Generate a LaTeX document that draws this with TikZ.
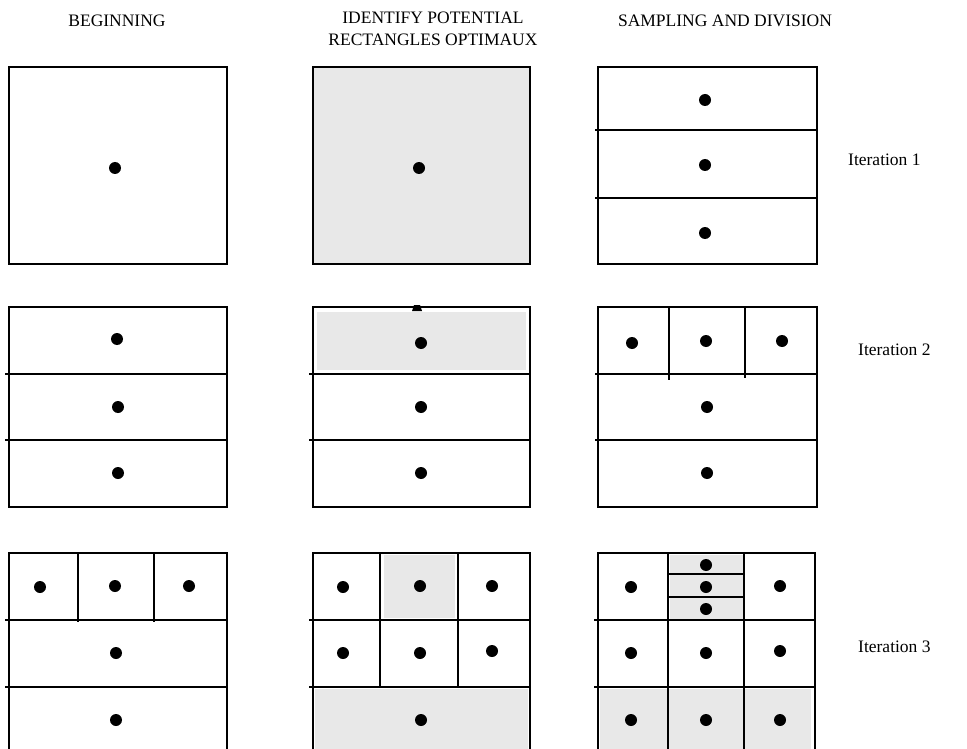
\documentclass[tikz,border=0pt]{standalone}
\usepackage{fontspec}
\setmainfont{Liberation Serif}
\definecolor{cellgrey}{HTML}{E8E8E8}
\begin{document}
\begin{tikzpicture}[x=1pt,y=-1pt,
  frame/.style={draw=black,line width=1.7pt},
  divider/.style={draw=black,line width=1.5pt},
  shade/.style={fill=cellgrey},
  dotmark/.style={fill=black},
  hdr/.style={font=\fontsize{17.5}{22}\selectfont, align=center, inner sep=0pt},
  itlab/.style={font=\fontsize{17.5}{20}\selectfont, inner sep=0pt, anchor=west}]
\useasboundingbox[fill=white] (0,0) rectangle (967,749);

% headers
\node[hdr] (h1) at (117,21) {BEGINNING};
\node[hdr] (h2) at (433,29) {IDENTIFY POTENTIAL\\RECTANGLES OPTIMAUX};
\node[hdr] (h3) at (725,21) {SAMPLING AND DIVISION};

% iteration labels
\node[itlab] (it1) at (848,160) {Iteration 1};
\node[itlab] (it2) at (858,350) {Iteration 2};
\node[itlab] (it3) at (858,647) {Iteration 3};

% ---------- Row 1 ----------
\draw[frame] (9,67) rectangle (227,264);
\fill[dotmark] (115,168) circle (6);

\draw[frame,shade] (313,67) rectangle (530,264);
\fill[dotmark] (419,168) circle (6);

\draw[frame] (598,67) rectangle (817,264);
\draw[divider] (595,130) -- (817,130);
\draw[divider] (595,198) -- (817,198);
\fill[dotmark] (705,100) circle (6);
\fill[dotmark] (705,165) circle (6);
\fill[dotmark] (705,233) circle (6);

% ---------- Row 2 ----------
\draw[frame] (9,307) rectangle (227,507);
\draw[divider] (5,374) -- (227,374);
\draw[divider] (5,440) -- (227,440);
\fill[dotmark] (117,339) circle (6);
\fill[dotmark] (118,407) circle (6);
\fill[dotmark] (118,473) circle (6);

\fill[shade] (317,312) rectangle (526,370);
\draw[frame] (313,307) rectangle (530,507);
\draw[divider] (309,374) -- (530,374);
\draw[divider] (309,440) -- (530,440);
\fill[dotmark] (412,311) -- (414,305) -- (420,305) -- (422,311) -- cycle;
\fill[dotmark] (421,343) circle (6);
\fill[dotmark] (421,407) circle (6);
\fill[dotmark] (421,473) circle (6);

\draw[frame] (598,307) rectangle (817,507);
\draw[divider] (595,374) -- (817,374);
\draw[divider] (595,440) -- (817,440);
\draw[divider] (669,307) -- (669,380);
\draw[divider] (745,307) -- (745,378);
\fill[dotmark] (632,343) circle (6);
\fill[dotmark] (706,341) circle (6);
\fill[dotmark] (782,341) circle (6);
\fill[dotmark] (707,407) circle (6);
\fill[dotmark] (707,473) circle (6);

% ---------- Row 3 ----------
\draw[frame] (9,749) -- (9,553) -- (227,553) -- (227,749);
\draw[divider] (5,620) -- (227,620);
\draw[divider] (5,687) -- (227,687);
\draw[divider] (78,553) -- (78,622);
\draw[divider] (154,553) -- (154,622);
\fill[dotmark] (40,587) circle (6);
\fill[dotmark] (115,586) circle (6);
\fill[dotmark] (189,586) circle (6);
\fill[dotmark] (116,653) circle (6);
\fill[dotmark] (116,720) circle (6);

\fill[shade] (384,555) rectangle (455,618);
\fill[shade] (315,689) rectangle (528,749);
\draw[frame] (313,749) -- (313,553) -- (530,553) -- (530,749);
\draw[divider] (309,620) -- (530,620);
\draw[divider] (309,687) -- (530,687);
\draw[divider] (380,553) -- (380,687);
\draw[divider] (458,553) -- (458,687);
\fill[dotmark] (343,587) circle (6);
\fill[dotmark] (420,586) circle (6);
\fill[dotmark] (492,586) circle (6);
\fill[dotmark] (343,653) circle (6);
\fill[dotmark] (420,653) circle (6);
\fill[dotmark] (492,651) circle (6);
\fill[dotmark] (421,720) circle (6);

\fill[shade] (670,555) rectangle (743,619);
\fill[shade] (600,689) rectangle (811,749);
\draw[frame] (598,749) -- (598,553) -- (815,553) -- (815,749);
\draw[divider] (594,620) -- (815,620);
\draw[divider] (594,687) -- (815,687);
\draw[divider] (668,553) -- (668,749);
\draw[divider] (744,553) -- (744,749);
\draw[divider] (668,574) -- (744,574);
\draw[divider] (668,597) -- (744,597);
\fill[dotmark] (631,587) circle (6);
\fill[dotmark] (706,565) circle (6);
\fill[dotmark] (706,587) circle (6);
\fill[dotmark] (706,609) circle (6);
\fill[dotmark] (780,586) circle (6);
\fill[dotmark] (631,653) circle (6);
\fill[dotmark] (706,653) circle (6);
\fill[dotmark] (780,651) circle (6);
\fill[dotmark] (631,720) circle (6);
\fill[dotmark] (706,720) circle (6);
\fill[dotmark] (780,720) circle (6);
\end{tikzpicture}
\end{document}
